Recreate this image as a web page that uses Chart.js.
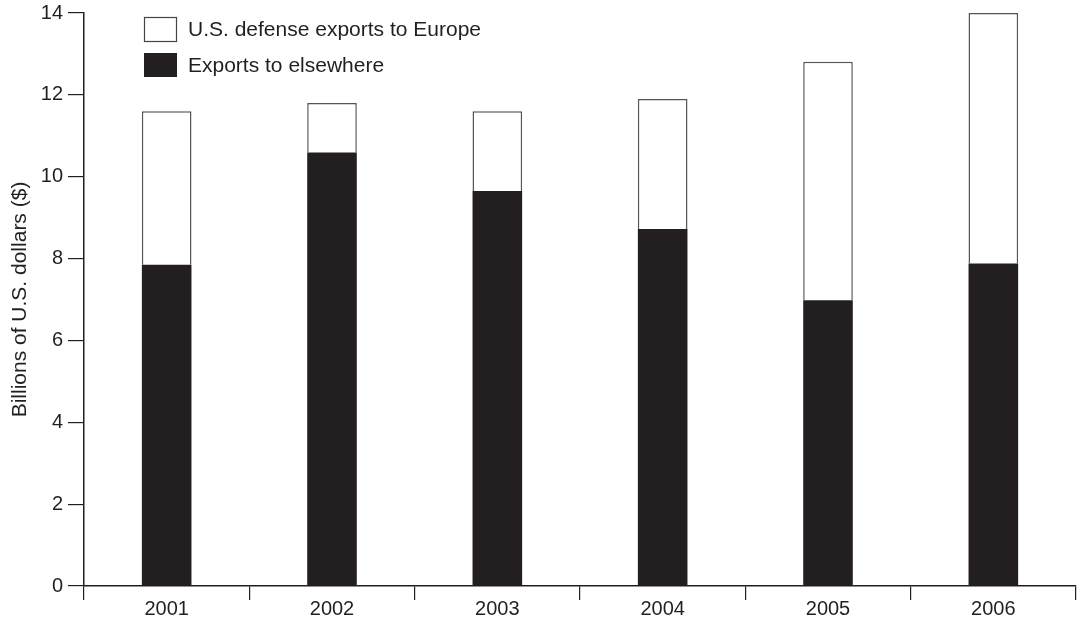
<!DOCTYPE html>
<html>
<head>
<meta charset="utf-8">
<script src="https://cdn.jsdelivr.net/npm/chart.js@4"></script>
<style>
html,body{margin:0;padding:0;background:#fff;}
#wrap{width:1078px;height:619px;position:relative;}
</style>
</head>
<body>
<div id="wrap"><canvas id="c" width="1078" height="619"></canvas></div>
<script>
const years = ["2001", "2002", "2003", "2004", "2005", "2006"];
const elsewhere = [7.85, 10.59, 9.65, 8.72, 6.98, 7.88];
const europe = [3.75, 1.21, 1.95, 3.18, 5.83, 6.12];
const yTicks = [0, 2, 4, 6, 8, 10, 12, 14];
const seriesLabels = ["U.S. defense exports to Europe", "Exports to elsewhere"];
const ink = "#231f20";
const FONT = "'Liberation Sans', Arial, sans-serif";
const FS = 20;

const legendPlugin = {
  id: 'customLegend',
  afterDraw(chart) {
    const ctx = chart.ctx;
    ctx.save();
    ctx.font = "21px " + FONT;
    ctx.textBaseline = "middle";
    ctx.fillStyle = "#fff";
    ctx.fillRect(144.5, 17.5, 32, 24);
    ctx.strokeStyle = "#444";
    ctx.lineWidth = 1.2;
    ctx.strokeRect(144.5, 17.5, 32, 24);
    ctx.fillStyle = ink;
    ctx.fillText(chart.data.datasets[1].label, 188, 30);
    ctx.fillRect(144, 53, 33, 24);
    ctx.fillText(chart.data.datasets[0].label, 188, 66);
    ctx.restore();
  }
};

new Chart(document.getElementById('c'), {
  type: 'bar',
  data: {
    labels: years,
    datasets: [
      {
        label: seriesLabels[1],
        data: elsewhere,
        backgroundColor: ink,
        borderWidth: 0,
        barPercentage: 0.3,
        categoryPercentage: 1
      },
      {
        label: seriesLabels[0],
        data: europe,
        backgroundColor: "#fff",
        borderColor: "#555",
        borderWidth: 1.5,
        borderSkipped: 'bottom',
        barPercentage: 0.3,
        categoryPercentage: 1
      }
    ]
  },
  options: {
    responsive: false,
    animation: false,
    devicePixelRatio: 1,
    layout: { padding: { top: 12, right: 2, left: 8, bottom: 0 } },
    plugins: { legend: { display: false }, tooltip: { enabled: false } },
    scales: {
      x: {
        stacked: true,
        grid: { offset: true, drawOnChartArea: false, tickLength: 14, color: ink, lineWidth: 1.2 },
        border: { color: ink, width: 1.5 },
        ticks: { color: ink, font: { family: FONT, size: FS }, padding: -3, maxRotation: 0 },
        afterFit(s) { s.height = 33; }
      },
      y: {
        stacked: true,
        min: 0, max: 14,
        afterBuildTicks(s) { s.ticks = yTicks.map(v => ({ value: v })); },
        grid: { drawOnChartArea: false, tickLength: 16, color: ink, lineWidth: 1.2 },
        border: { color: ink, width: 1.5 },
        ticks: { color: ink, font: { family: FONT, size: FS, lineHeight: 0.8 }, padding: 5 },
        title: { display: true, text: "Billions of U.S. dollars ($)", color: ink, font: { family: FONT, size: 21 }, padding: 0 },
        afterFit(s) { s.width = 76; }
      }
    }
  },
  plugins: [legendPlugin]
});
</script>
</body>
</html>
